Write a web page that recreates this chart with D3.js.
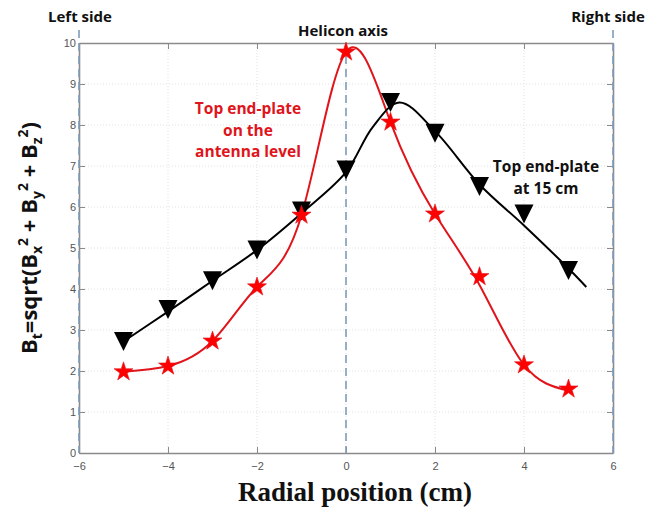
<!DOCTYPE html>
<html>
<head>
<meta charset="utf-8">
<script src="https://cdn.jsdelivr.net/npm/d3@7"></script>
<style>
  html, body { margin: 0; padding: 0; background: #fff; }
  svg { display: block; }
  .tick text { font-family: "Liberation Sans Narrow", "Arial Narrow", "Liberation Sans", sans-serif; font-size: 11px; fill: #555; }
  .note { font-family: "Open Sans", "Liberation Sans", sans-serif; font-weight: 700; }
</style>
</head>
<body>
<svg id="chart" width="653" height="509"></svg>
<script>
// Radial positions of the probe (cm)
const positions = [-5, -4, -3, -2, -1, 0, 1, 2, 3, 4, 5];
// |B| measured with the top end-plate at the antenna level (stars)
const antennaLevel = [1.98, 2.12, 2.73, 4.05, 5.8, 9.78, 8.07, 5.83, 4.3, 2.15, 1.56];
// Smoothed trend through the antenna-level measurements
const fitAntennaY = [1.98, 2.12, 2.73, 4.05, 5.8, 9.78, 8.07, 5.83, 4.1, 2.15, 1.52];
// |B| measured with the top end-plate at 15 cm (triangles)
const at15cm = [2.72, 3.5, 4.2, 4.95, 5.9, 6.9, 8.55, 7.8, 6.5, 5.83, 4.45];
// Smoothed trend through the 15 cm measurements
const fit15cmX = [-5, -4, -3, -2, -1, 0, 0.6, 1.2, 2, 3, 4, 5, 5.4];
const fit15cmY = [2.72, 3.45, 4.2, 4.95, 5.85, 6.85, 7.95, 8.55, 7.85, 6.55, 5.55, 4.5, 4.05];
// Axis ticks
const xTicks = [-6, -4, -2, 0, 2, 4, 6];
const yTicks = [0, 1, 2, 3, 4, 5, 6, 7, 8, 9, 10];
// Reference positions marked with dashed lines
const markerLines = [-6, 0, 6];

const svg = d3.select("#chart");
const x = d3.scaleLinear().domain([-6, 6]).range([79, 613]);
const y = d3.scaleLinear().domain([0, 10]).range([453, 43]);

// light dotted grid
const grid = svg.append("g");
grid.selectAll("line.gy").data(yTicks.filter(d => d > 0 && d < 10)).join("line")
  .attr("x1", x(-6)).attr("x2", x(6)).attr("y1", d => y(d)).attr("y2", d => y(d))
  .attr("stroke", "#e2e2e2").attr("stroke-width", 1).attr("stroke-dasharray", "1,2");
grid.selectAll("line.gx").data(xTicks.filter(d => d > -6 && d < 6)).join("line")
  .attr("y1", y(0)).attr("y2", y(10)).attr("x1", d => x(d)).attr("x2", d => x(d))
  .attr("stroke", "#e2e2e2").attr("stroke-width", 1).attr("stroke-dasharray", "1,2");

// axes with inward ticks on all four sides
const axisColor = "#8a8a8a";
function styleAxis(g, showLabels) {
  g.select(".domain").attr("stroke", axisColor).attr("stroke-width", 1.6);
  g.selectAll(".tick line").attr("stroke", axisColor).attr("stroke-width", 1);
  if (!showLabels) g.selectAll(".tick text").remove();
}
svg.append("g").attr("transform", `translate(0,${y(0)})`)
  .call(d3.axisBottom(x).tickValues(xTicks).tickSize(-6).tickSizeOuter(0).tickPadding(9))
  .call(g => styleAxis(g, true));
svg.append("g").attr("transform", `translate(0,${y(10)})`)
  .call(d3.axisTop(x).tickValues(xTicks).tickSize(-6).tickSizeOuter(0))
  .call(g => styleAxis(g, false));
svg.append("g").attr("transform", `translate(${x(-6)},0)`)
  .call(d3.axisLeft(y).tickValues(yTicks).tickSize(-6).tickSizeOuter(0).tickPadding(3))
  .call(g => styleAxis(g, true));
svg.append("g").attr("transform", `translate(${x(6)},0)`)
  .call(d3.axisRight(y).tickValues(yTicks).tickSize(-6).tickSizeOuter(0))
  .call(g => styleAxis(g, false));

// dashed lines marking the left wall, the helicon axis and the right wall
svg.append("g").selectAll("line").data(markerLines).join("line")
  .attr("x1", d => x(d)).attr("x2", d => x(d))
  .attr("y1", d => d === 0 ? y(10) : 30).attr("y2", y(0))
  .attr("stroke", "#7f9cbb").attr("stroke-width", 1.6).attr("stroke-dasharray", "8,5");

// curves
const redLine = d3.line().x(d => x(d[0])).y(d => y(d[1])).curve(d3.curveNatural);
svg.append("path").datum(positions.map((p, i) => [p, fitAntennaY[i]]))
  .attr("d", redLine).attr("fill", "none").attr("stroke", "#e0141b").attr("stroke-width", 2);

const blackLine = d3.line().x(d => x(d[0])).y(d => y(d[1])).curve(d3.curveCatmullRom.alpha(0.5));
svg.append("path").datum(fit15cmX.map((p, i) => [p, fit15cmY[i]]))
  .attr("d", blackLine).attr("fill", "none").attr("stroke", "#000").attr("stroke-width", 2);

// markers
const tri = "M-9.5,-9.5L9.5,-9.5L0,9.5Z";
svg.append("g").selectAll("path").data(positions.map((p, i) => [p, at15cm[i]])).join("path")
  .attr("transform", d => `translate(${x(d[0])},${y(d[1])})`)
  .attr("d", tri).attr("fill", "#000");

const star = d3.symbol().type(d3.symbolStar).size(112);
svg.append("g").selectAll("path").data(positions.map((p, i) => [p, antennaLevel[i]])).join("path")
  .attr("transform", d => `translate(${x(d[0])},${y(d[1])})`)
  .attr("d", star).attr("fill", "#ff0000").attr("stroke", "#e0141b").attr("stroke-width", 0.6);

// annotations
svg.append("text").attr("class", "note").attr("x", 80).attr("y", 22).attr("text-anchor", "middle")
  .attr("font-size", 15).attr("fill", "#111").text("Left side");
svg.append("text").attr("class", "note").attr("x", 343).attr("y", 36).attr("text-anchor", "middle")
  .attr("font-size", 15).attr("fill", "#111").text("Helicon axis");
svg.append("text").attr("class", "note").attr("x", 608).attr("y", 22).attr("text-anchor", "middle")
  .attr("font-size", 15).attr("fill", "#111").text("Right side");

const redNote = svg.append("text").attr("class", "note").attr("text-anchor", "middle")
  .attr("font-size", 15.5).attr("fill", "#e0141b");
["Top end-plate", "on the", "antenna level"].forEach((t, i) =>
  redNote.append("tspan").attr("x", 248).attr("y", 114 + i * 21.5).text(t));

const blackNote = svg.append("text").attr("class", "note").attr("text-anchor", "middle")
  .attr("font-size", 15.5).attr("fill", "#111");
["Top end-plate", "at 15 cm"].forEach((t, i) =>
  blackNote.append("tspan").attr("x", 546).attr("y", 172 + i * 21.5).text(t));

// axis titles
const yTitle = svg.append("text").attr("class", "note")
  .attr("transform", "translate(37,238) rotate(-90)").attr("text-anchor", "middle")
  .attr("font-size", 22).attr("fill", "#111");
yTitle.append("tspan").text("B");
yTitle.append("tspan").attr("font-size", 14).attr("dy", 5).text("t");
yTitle.append("tspan").attr("dy", -5).text("=sqrt(B");
yTitle.append("tspan").attr("font-size", 14).attr("dy", 5).text("x");
yTitle.append("tspan").attr("font-size", 14).attr("dy", -14).text("2");
yTitle.append("tspan").attr("dy", 9).text(" + B");
yTitle.append("tspan").attr("font-size", 14).attr("dy", 5).text("y");
yTitle.append("tspan").attr("font-size", 14).attr("dy", -14).text("2");
yTitle.append("tspan").attr("dy", 9).text(" + B");
yTitle.append("tspan").attr("font-size", 14).attr("dy", 5).text("z");
yTitle.append("tspan").attr("font-size", 14).attr("dy", -14).text("2");
yTitle.append("tspan").attr("dy", 9).text(")");

svg.append("text").attr("x", 355).attr("y", 501).attr("text-anchor", "middle")
  .attr("font-family", "'Liberation Serif', 'Times New Roman', serif").attr("font-weight", 700)
  .attr("font-size", 27).attr("fill", "#111").text("Radial position (cm)");
</script>
</body>
</html>
